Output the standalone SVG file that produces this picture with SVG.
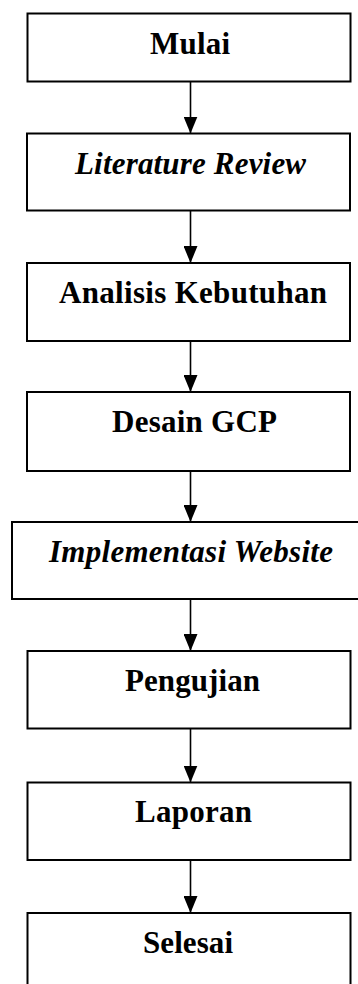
<svg xmlns="http://www.w3.org/2000/svg" width="358" height="984" viewBox="0 0 358 984">
<style>
.box{fill:none;stroke:#000;stroke-width:2}
.lbl{font-family:"Liberation Serif","Times New Roman",serif;font-size:31px;font-weight:bold;fill:#000;text-anchor:middle}
.it{font-style:italic}
.conn{stroke:#000;stroke-width:1.6;fill:none}
</style>
<defs>
<marker id="ah" viewBox="0 0 17 14" refX="17" refY="7" markerWidth="17" markerHeight="14" markerUnits="userSpaceOnUse" orient="auto">
<path d="M0,0 L17,7 L0,14 Z" fill="#000"/>
</marker>
</defs>
<rect width="358" height="984" fill="#fff"/>
<g id="connectors">
<line class="conn" x1="190.5" y1="81.5" x2="190.5" y2="133.5" marker-end="url(#ah)"/>
<line class="conn" x1="190.5" y1="210.5" x2="190.5" y2="263" marker-end="url(#ah)"/>
<line class="conn" x1="190.5" y1="341" x2="190.5" y2="392" marker-end="url(#ah)"/>
<line class="conn" x1="190.5" y1="471" x2="190.5" y2="522" marker-end="url(#ah)"/>
<line class="conn" x1="190.5" y1="599" x2="190.5" y2="651" marker-end="url(#ah)"/>
<line class="conn" x1="190.5" y1="728.5" x2="190.5" y2="782.5" marker-end="url(#ah)"/>
<line class="conn" x1="190.5" y1="860" x2="190.5" y2="913" marker-end="url(#ah)"/>
</g>
<g id="mulai">
<rect class="box" x="27.5" y="13.5" width="323" height="68"/>
<text class="lbl" x="190" y="54" textLength="80">Mulai</text>
</g>
<g id="literature-review">
<rect class="box" x="27" y="133.5" width="323" height="77"/>
<text class="lbl it" x="190.5" y="174" textLength="231">Literature Review</text>
</g>
<g id="analisis-kebutuhan">
<rect class="box" x="27" y="263" width="323" height="78"/>
<text class="lbl" x="193" y="303" textLength="268">Analisis Kebutuhan</text>
</g>
<g id="desain-gcp">
<rect class="box" x="27" y="392" width="323" height="79"/>
<text class="lbl" x="194.5" y="431.5" textLength="165">Desain GCP</text>
</g>
<g id="implementasi-website">
<rect class="box" x="12" y="522" width="360" height="77"/>
<text class="lbl it" x="191" y="561.5" textLength="284">Implementasi Website</text>
</g>
<g id="pengujian">
<rect class="box" x="27.5" y="651" width="323" height="77.5"/>
<text class="lbl" x="192.5" y="691" textLength="135">Pengujian</text>
</g>
<g id="laporan">
<rect class="box" x="27.5" y="782.5" width="323" height="77.5"/>
<text class="lbl" x="193.5" y="821.5" textLength="117">Laporan</text>
</g>
<g id="selesai">
<rect class="box" x="27.5" y="913" width="323" height="80"/>
<text class="lbl" x="188" y="952.5" textLength="90">Selesai</text>
</g>
</svg>
